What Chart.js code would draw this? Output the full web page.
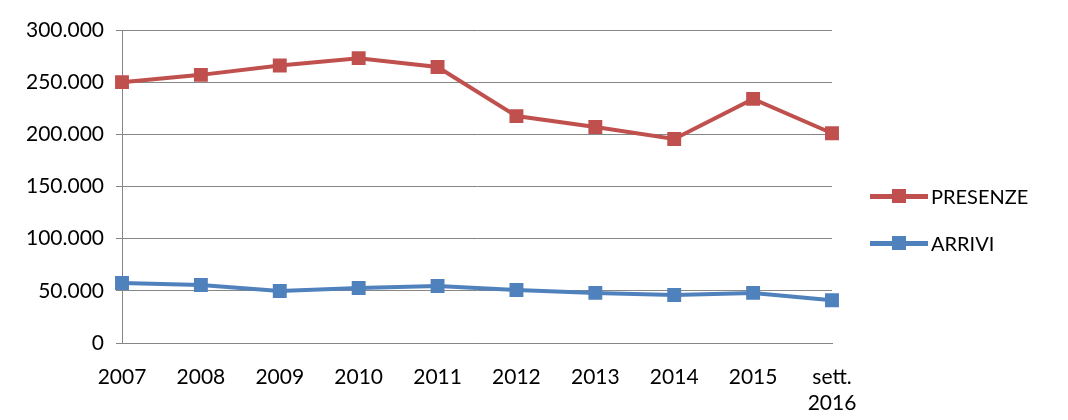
<!DOCTYPE html>
<html><head><meta charset="utf-8">
<script src="https://cdn.jsdelivr.net/npm/chart.js@4"></script>
<style>
body{margin:0;background:#fff;font-family:Lato,sans-serif}
#wrap{position:relative;width:1068px;height:420px}
.leg{position:absolute;left:870px;font-size:20px;color:#000;display:flex;align-items:center}
.leg i{display:inline-block;width:58px;height:5px;position:relative;margin-right:3px}
.leg i b{position:absolute;left:22px;top:-5px;width:14px;height:14px}
</style></head><body>
<div id="wrap"><canvas id="c" width="1068" height="420"></canvas>
<div class="leg" style="top:184px"><i style="background:#c0504d"><b style="background:#c0504d"></b></i>PRESENZE</div>
<div class="leg" style="top:231px"><i style="background:#4f81bd"><b style="background:#4f81bd"></b></i>ARRIVI</div>
</div>
<script>
var years = ['2007','2008','2009','2010','2011','2012','2013','2014','2015',['sett.','2016']];
var presenze = [250000,257000,266000,273000,264500,217500,207000,195500,234000,201000];
var arrivi = [57500,55600,49800,52700,54600,50800,48000,46000,48000,41000];
var yTicks = [0,50000,100000,150000,200000,250000,300000];

function fmt(v){ return v.toString().replace(/\B(?=(\d{3})+(?!\d))/g,'.'); }

var ctx = document.getElementById('c').getContext('2d');
new Chart(ctx, {
  type: 'line',
  data: {
    labels: years,
    datasets: [
      {label:'PRESENZE', data:presenze, borderColor:'#c0504d', backgroundColor:'#c0504d',
       borderWidth:4, pointStyle:'rect', pointRadius:7, tension:0},
      {label:'ARRIVI', data:arrivi, borderColor:'#4f81bd', backgroundColor:'#4f81bd',
       borderWidth:4, pointStyle:'rect', pointRadius:7, tension:0}
    ]
  },
  options: {
    responsive:false, animation:false,
    layout:{padding:{top:30,right:236,left:0,bottom:0}},
    plugins:{legend:{display:false}, tooltip:{enabled:false}},
    scales:{
      x:{offset:false,
         afterFit:function(a){a.height=77;},
         grid:{display:false, tickLength:6, color:'#868686'},
         border:{color:'#868686'},
         ticks:{color:'#000',font:{family:'Lato',size:21},maxRotation:0,autoSkip:false,padding:16,lineHeight:1.15}},
      y:{min:0,max:300000,
         afterFit:function(a){a.width=122;},
         afterBuildTicks:function(a){a.ticks=yTicks.map(function(v){return {value:v};});},
         grid:{color:'#868686',tickLength:6},
         border:{color:'#868686'},
         ticks:{color:'#000',font:{family:'Lato',size:21},padding:12,callback:function(v){return fmt(v);}}}
    }
  }
});
</script>
</body></html>
